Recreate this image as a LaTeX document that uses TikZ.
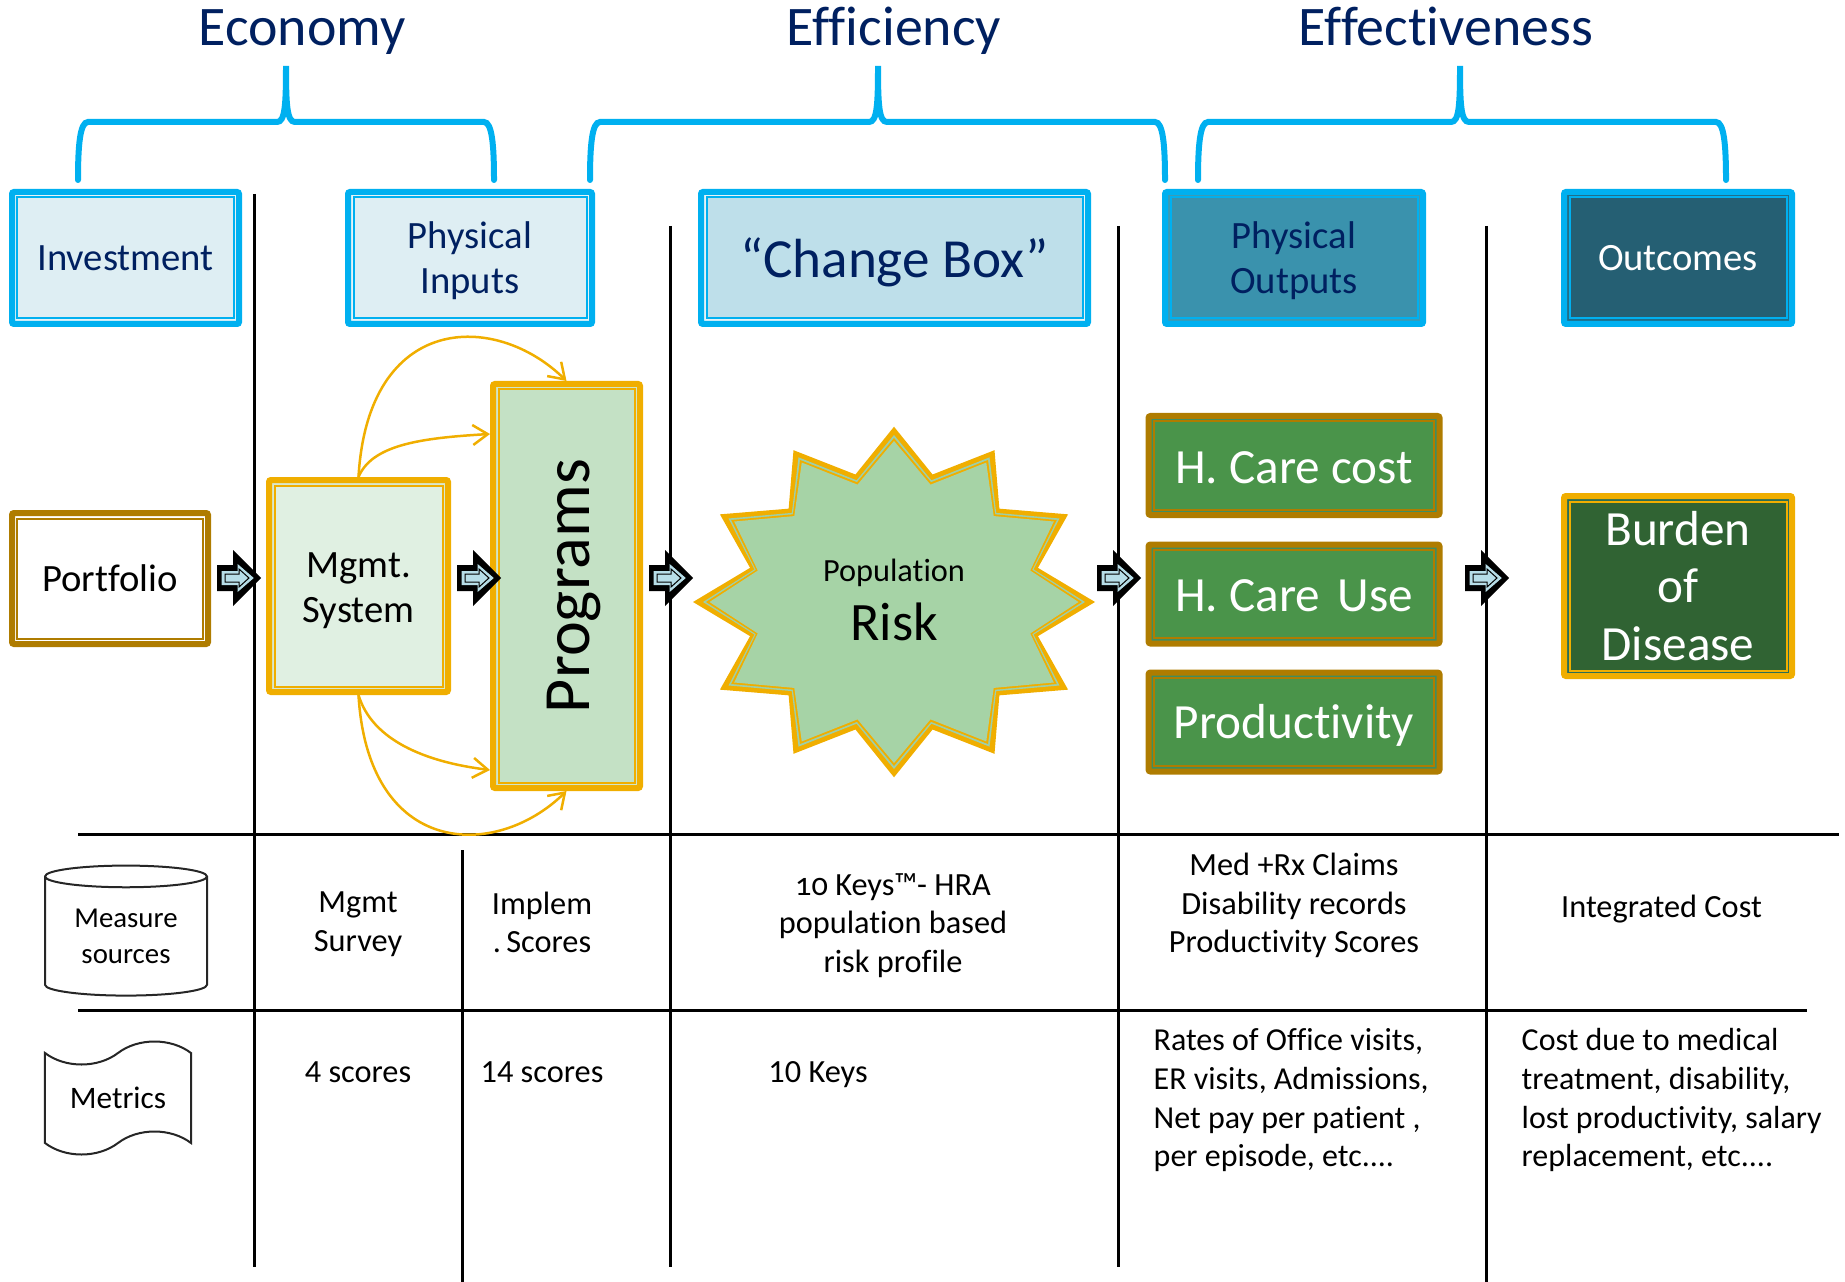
\documentclass[tikz,border=0pt]{standalone}
\usepackage{fontspec}
\setmainfont[Ligatures=NoCommon]{Carlito}
\newfontfamily\oldnums[Numbers=OldStyle]{Carlito}
\usepackage{xcolor}
\usepackage{tikz}
\usetikzlibrary{
	arrows.meta,calc,shapes.geometric,shapes.symbols
}
\definecolor{navy}{HTML}{002060}
\definecolor{skyband}{HTML}{00B0F0}
\definecolor{goldband}{HTML}{F0AE00}
\definecolor{brownband}{HTML}{AF7C00}
\definecolor{arrowblue}{HTML}{B7DEE8}
\definecolor{icegap}{HTML}{E6F3F7}
\definecolor{icecore}{HTML}{DEEEF3}
\definecolor{changecore}{HTML}{BEDFEA}
\definecolor{outputgap}{HTML}{3B9BB5}
\definecolor{outputcore}{HTML}{3A92AD}
\definecolor{outcomegap}{HTML}{1F6F8A}
\definecolor{outcomecore}{HTML}{255F73}
\definecolor{mgmtgap}{HTML}{D9E8D0}
\definecolor{mgmtcore}{HTML}{E0F0E2}
\definecolor{proggap}{HTML}{D0E5C8}
\definecolor{progcore}{HTML}{C4E1C5}
\definecolor{stargap}{HTML}{9CCFAA}
\definecolor{starcore}{HTML}{A6D3A6}
\definecolor{caregap}{HTML}{3F8E60}
\definecolor{carecore}{HTML}{4A944A}
\definecolor{burdengap}{HTML}{2C6E55}
\definecolor{burdencore}{HTML}{306333}
\tikzset{
	framebox/.style n args={3}{rectangle,rounded corners=.02cm,draw=#1,fill=#2,line width=.06cm,inner sep=0pt,align=center,
		path picture={\draw[#1,fill=#3,line width=.02cm,sharp corners]
			($(path picture bounding box.south west)+(.055,.055)$) rectangle
			($(path picture bounding box.north east)+(-.055,-.055)$);}},
	framelabel/.style n args={3}{label={[#1,align=center,yshift=#2]center:#3}},
	topfont/.style={font=\fontsize{15.9}{18}\selectfont,text=navy,anchor=base},
	midfont/.style={font=\fontsize{11}{12.9}\selectfont},
	bigfont/.style={font=\fontsize{14}{16.4}\selectfont},
	tabfont/.style={font=\fontsize{9.2}{11}\selectfont,align=center},
	listfont/.style={font=\fontsize{9.1}{11}\selectfont,align=left},
	ruleline/.style={line width=.03cm},
	bracket/.style={skyband,line width=.06cm,line cap=round},
	flowline/.style={goldband,line width=.025cm,->,>={Straight Barb[length=.15cm,width=.2cm]}},
	pics/blockarrow/.style={code={
		\fill[black] (0,.13) -- (.16,.13) -- (.16,.28) -- (.44,0) -- (.16,-.28) -- (.16,-.13) -- (0,-.13) -- cycle;
		\draw[arrowblue,fill=arrowblue,line width=.01cm,line join=miter] (.05,.065) -- (.21,.065) -- (.21,.13) -- (.36,0) -- (.21,-.13) -- (.21,-.065) -- (.05,-.065) -- cycle;
		\draw[black,fill=arrowblue,line width=.01cm] (.08,.04) -- (.22,.04) -- (.22,.09) -- (.32,0) -- (.22,-.09) -- (.22,-.04) -- (.08,-.04) -- cycle;
	}}
}
\begin{document}
\begin{tikzpicture}
		\useasboundingbox (0,0) rectangle (18.45,-12.82);
		% table rules
		\foreach \x/\ya/\yb in {2.54/-1.94/-12.67,4.62/-8.50/-12.82,6.705/-2.26/-12.67,11.18/-2.26/-12.67,14.86/-2.26/-12.82}
			\draw[ruleline] (\x,\ya) -- (\x,\yb);
		\draw[ruleline] (.78,-8.34) -- (18.39,-8.34);
		\draw[ruleline] (.78,-10.10) -- (18.07,-10.10);
		%
		\node[topfont] (economy) at (3.02,-.46) {Economy};
		\node[topfont] (efficiency) at (8.94,-.46) {Efficiency};
		\node[topfont] (effective) at (14.46,-.46) {Effectiveness};
		% braces
		\foreach \xa/\xt/\xb in {.78/2.86/4.94,5.90/8.78/11.65,11.98/14.60/17.26}
			\draw[bracket] (\xa,-1.80) .. controls (\xa,-1.45) and (\xa+.02,-1.22) .. (\xa+.10,-1.22) -- (\xt-.09,-1.22) .. controls (\xt-.01,-1.22) and (\xt,-1.05) .. (\xt,-.66) .. controls (\xt,-1.05) and (\xt+.01,-1.22) .. (\xt+.09,-1.22) -- (\xb-.10,-1.22) .. controls (\xb-.02,-1.22) and (\xb,-1.45) .. (\xb,-1.80);
		% top row
		\node[framebox={skyband}{icegap}{icecore},midfont,text=navy,minimum width=2.27cm,minimum height=1.32cm] (invest) at (1.255,-2.58) {Investment};
		\node[framebox={skyband}{icegap}{icecore},framelabel={midfont,text=navy}{-.03cm}{Physical\\Inputs},minimum width=2.44cm,minimum height=1.32cm] (inputs) at (4.70,-2.58) {};
		\node[framebox={skyband}{icegap}{changecore},framelabel={font=\fontsize{15.7}{18}\selectfont,text=navy}{-.04cm}{“Change Box”},minimum width=3.87cm,minimum height=1.32cm] (change) at (8.945,-2.58) {};
		\node[framebox={skyband}{outputgap}{outputcore},framelabel={midfont,text=navy}{-.03cm}{Physical\\Outputs},minimum width=2.58cm,minimum height=1.32cm] (outputs) at (12.94,-2.58) {};
		\node[framebox={skyband}{outcomegap}{outcomecore},midfont,text=white,minimum width=2.28cm,minimum height=1.32cm] (outcomes) at (16.78,-2.58) {Outcomes};
		% middle row
		\node[framebox={brownband}{white}{white},midfont,minimum width=1.96cm,minimum height=1.31cm] (portfolio) at (1.10,-5.785) {Portfolio};
		\node[framebox={goldband}{mgmtgap}{mgmtcore},framelabel={midfont}{-.045cm}{Mgmt.\\System},minimum width=1.79cm,minimum height=2.12cm] (mgmt) at (3.585,-5.86) {};
		\node[framebox={goldband}{proggap}{progcore},minimum width=1.47cm,minimum height=4.04cm,font=\fontsize{18.8}{20}\selectfont] (programs) at (5.665,-5.86) {\hspace*{.14cm}\rotatebox{90}{Programs}};
		% star
		\begin{scope}[shift={(8.94,-6.02)}]
			\foreach \rtx/\rty/\rvx/\rvy/\col in {2.01/1.753/1.49/1.32/goldband,1.91/1.67/1.445/1.26/stargap,1.88/1.64/1.43/1.24/goldband,1.845/1.61/1.41/1.215/starcore}
				\fill[\col] (0,\rty) \foreach \a in {0,...,11} { -- ({\rvx*cos(75-30*\a)},{\rvy*sin(75-30*\a)}) -- ({\rtx*cos(60-30*\a)},{\rty*sin(60-30*\a)})} -- cycle;
		\end{scope}
		\node[align=center] (risk) at (8.94,-6.00) {\fontsize{9.2}{13}\selectfont Population\\[.12cm]\fontsize{15.4}{17}\selectfont Risk};
		\foreach \y/\dy/\name/\txt in {-4.655/-.02/cost/H. Care cost,-5.94/-.02/use/H. Care\hspace{.35em}Use,-7.22/-.03/prod/Productivity}
			\node[framebox={brownband}{caregap}{carecore},framelabel={bigfont,text=white}{\dy cm}{\txt},minimum width=2.91cm,minimum height=.99cm] (\name) at (12.94,\y) {};
		\node[framebox={goldband}{burdengap}{burdencore},bigfont,text=white,minimum width=2.28cm,minimum height=1.80cm] (burden) at (16.78,-5.86) {Burden\\of\\Disease};
		% flow curves
		\draw[flowline] (mgmt.north) .. controls (3.68,-3.13) and (4.95,-3.11) .. (programs.north);
		\draw[flowline] (mgmt.north) .. controls (3.72,-4.45) and (4.20,-4.38) .. ($(programs.west)+(0,1.52)$);
		\draw[flowline] (mgmt.south) .. controls (3.68,-8.57) and (4.95,-8.61) .. (programs.south);
		\draw[flowline] (mgmt.south) .. controls (3.72,-7.40) and (4.25,-7.62) .. ($(programs.west)+(0,-1.84)$);
		% block arrows
		\foreach \x in {2.17,4.57,6.49,10.97,14.65}
			\pic at (\x,-5.78) {blockarrow};
		% left legend
		\node[cylinder,shape border rotate=90,aspect=.21,draw=black!85,line width=.02cm,minimum width=1.62cm,minimum height=1.30cm,inner sep=0pt,align=center,font=\fontsize{8.2}{10.2}\selectfont] (sources) at (1.26,-9.365) {Measure\\sources};
		\node[tape,tape bend top=in and out,tape bend bottom=in and out,tape bend height=.23cm,draw=black!85,line width=.02cm,minimum width=1.46cm,minimum height=1.13cm,inner sep=0pt,font=\fontsize{8.9}{11}\selectfont] (metrics) at (1.18,-10.98) {Metrics};
		% table text
		\node[tabfont] (survey) at (3.58,-9.24) {Mgmt\\Survey};
		\node[tabfont] (implem) at (5.42,-9.225) {Implem\\.\,Scores};
		\node[tabfont] (keys) at (8.93,-9.255) {{\oldnums 10} Keys™- HRA\\population based\\risk profile};
		\node[tabfont] (claims) at (12.94,-9.055) {Med +Rx Claims\\Disability records\\Productivity Scores};
		\node[tabfont,anchor=base] (integrated) at (16.615,-9.17) {Integrated Cost};
		\node[tabfont,anchor=base] (fourscores) at (3.58,-10.82) {4 scores};
		\node[tabfont,anchor=base] (fourteen) at (5.42,-10.82) {14 scores};
		\node[tabfont,anchor=base] (tenkeys) at (8.18,-10.82) {10 Keys};
		\node[listfont,anchor=north west,inner sep=0pt] (rates) at (11.53,-10.28) {Rates of Office visits,\\ER visits, Admissions,\\Net pay per patient ,\\per episode, etc....};
		\node[listfont,anchor=north west,inner sep=0pt] (costdue) at (15.21,-10.28) {Cost due to medical\\treatment, disability,\\lost productivity, salary\\replacement, etc....};
\end{tikzpicture}
\end{document}
